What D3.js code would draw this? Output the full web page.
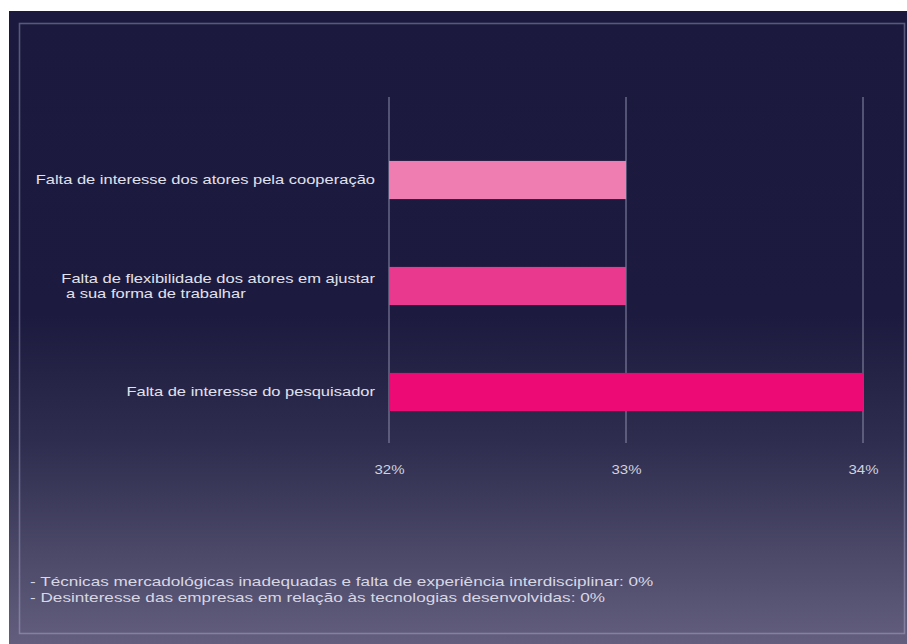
<!DOCTYPE html>
<html>
<head>
<meta charset="utf-8">
<script src="https://cdn.jsdelivr.net/npm/d3@7"></script>
<style>
  html, body { margin: 0; padding: 0; background: #ffffff; }
  svg { display: block; }
  text { font-family: "Liberation Sans", Arial, sans-serif; }
</style>
</head>
<body>
<svg id="chart" width="907" height="644"></svg>
<script>
// Obstacles to cooperation, share of responses (%)
const categories = [
  ["Falta de interesse dos atores pela cooperação"],
  ["Falta de flexibilidade dos atores em ajustar", " a sua forma de trabalhar"],
  ["Falta de interesse do pesquisador"]
];
const values = [33, 33, 34];
const barColors = ["#ef7db2", "#e9398f", "#ee0a74"];
const tickValues = [32, 33, 34];
const tickLabels = ["32%", "33%", "34%"];
const notes = [
  "- Técnicas mercadológicas inadequadas e falta de experiência interdisciplinar: 0%",
  "- Desinteresse das empresas em relação às tecnologias desenvolvidas: 0%"
];

const svg = d3.select("#chart");
const LABEL_STRETCH = 1.3;  // horizontal widening of the category lettering
const NOTE_STRETCH = 1.32;  // horizontal widening of the footnotes

// panel background
const defs = svg.append("defs");
const grad = defs.append("linearGradient")
  .attr("id", "bg").attr("x1", 0).attr("y1", 0).attr("x2", 0).attr("y2", 1);
[[0, "#1b1a3e"], [0.48, "#1c1b3f"], [0.68, "#2e2d4f"], [0.85, "#4a4767"], [1, "#635e7d"]]
  .forEach(([o, c]) => grad.append("stop").attr("offset", o).attr("stop-color", c));

svg.append("rect")
  .attr("x", 9).attr("y", 11).attr("width", 898).attr("height", 633)
  .attr("fill", "url(#bg)");

svg.append("rect")
  .attr("x", 19.5).attr("y", 23.5).attr("width", 885).attr("height", 610)
  .attr("fill", "none")
  .attr("stroke", "rgba(190,190,225,0.38)")
  .attr("stroke-width", 1.6);

// scales
const x = d3.scaleLinear().domain([32, 34]).range([389, 863]);
const y = d3.scaleBand()
  .domain(d3.range(categories.length))
  .range([127, 445])
  .paddingInner(0.64)
  .paddingOuter(0.32);

// vertical gridlines
svg.append("g").selectAll("line")
  .data(tickValues)
  .join("line")
  .attr("x1", d => x(d)).attr("x2", d => x(d))
  .attr("y1", 97).attr("y2", 443)
  .attr("stroke", "#8c8cab")
  .attr("stroke-width", 1);

// bars
svg.append("g").selectAll("rect")
  .data(values)
  .join("rect")
  .attr("x", x(32))
  .attr("y", (d, i) => y(i))
  .attr("width", d => x(d) - x(32))
  .attr("height", y.bandwidth())
  .attr("fill", (d, i) => barColors[i]);

// tick labels
const axis = d3.axisBottom(x)
  .tickValues(tickValues)
  .tickFormat((d, i) => tickLabels[i])
  .tickSize(0)
  .tickPadding(0);
const axisG = svg.append("g").attr("transform", "translate(0,470)").call(axis);
axisG.select(".domain").remove();
axisG.selectAll(".tick text")
  .attr("fill", "#d2d2de")
  .attr("font-size", 12.5)
  .attr("font-family", "Liberation Sans, Arial, sans-serif")
  .attr("dy", "0.32em")
  .attr("transform", "scale(1.2,1)");

// category labels, right edge at x = 375
const labelG = svg.append("g");
categories.forEach((lines, i) => {
  const cy = y(i) + y.bandwidth() / 2;
  const g = labelG.append("g")
    .attr("transform", `translate(375,${cy}) scale(${LABEL_STRETCH},1)`);
  const lh = 15.5;
  const t = g.append("text")
    .attr("fill", "#e2e2ec")
    .attr("font-size", 12.7);
  if (lines.length === 1) {
    t.attr("text-anchor", "end").attr("dy", "0.35em").text(lines[0]);
  } else {
    // left-aligned block whose widest line ends at the anchor
    const probe = g.append("text").attr("font-size", 12.7).text(lines[0]);
    const w = probe.node().getComputedTextLength();
    probe.remove();
    lines.forEach((ln, k) => {
      t.append("tspan")
        .attr("x", -w)
        .attr("y", (k - (lines.length - 1) / 2) * lh)
        .attr("dy", "0.35em")
        .style("white-space", "pre")
        .text(ln);
    });
  }
});

// footnotes
notes.forEach((n, i) => {
  svg.append("g")
    .attr("transform", `translate(30,${581 + i * 16.5}) scale(${NOTE_STRETCH},1)`)
    .append("text")
    .attr("fill", "#d8d8e4")
    .attr("font-size", 13)
    .attr("dy", "0.35em")
    .text(n);
});
</script>
</body>
</html>
